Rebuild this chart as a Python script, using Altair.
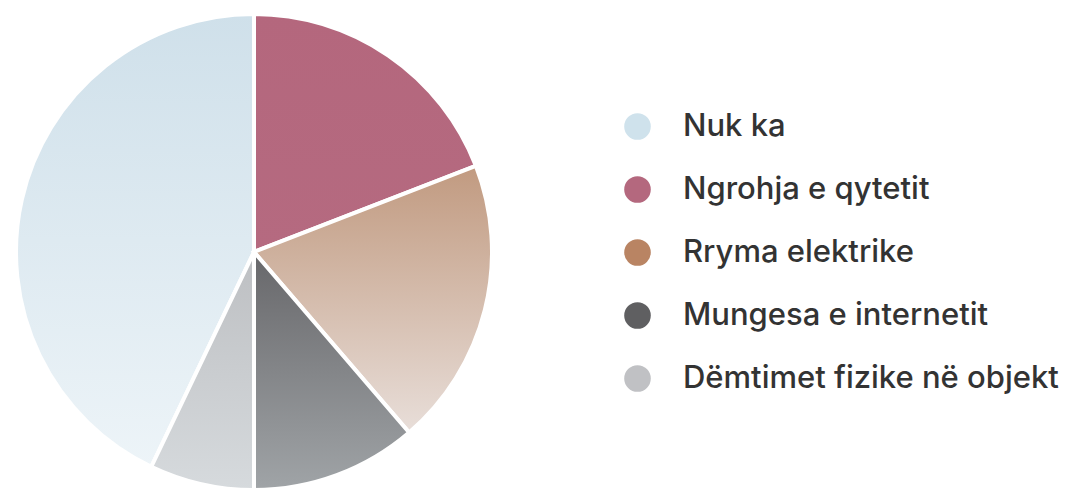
import altair as alt
import pandas as pd

categories = ["Nuk ka", "Ngrohja e qytetit", "Rryma elektrike", "Mungesa e internetit", "Dëmtimet fizike në objekt"]
values = [42.9, 19.1, 19.6, 11.3, 7.1]
draw_order = [5, 1, 2, 3, 4]
legend_colors = ["#cfe2ec", "#b4687e", "#b98463", "#5f5f61", "#c0c1c4"]
grad_top = ["#cfe0ea", "#b4677d", "#c19a80", "#67676a", "#bdbfc2"]
grad_bottom = ["#edf4f8", "#b56a80", "#e8ded9", "#a0a4a7", "#d6dadd"]

df = pd.DataFrame({"cat": categories, "value": values, "order": draw_order})

CX, CY, R = 246, 244, 238

base = alt.Chart(df).transform_window(
    end="sum(value)", sort=[alt.SortField("order")], frame=[None, 0]
).transform_calculate(start="datum.end - datum.value")

theta = alt.Theta("start:Q", stack=None, scale=alt.Scale(domain=[0, 100]))
theta2 = alt.Theta2("end:Q")

bottom = base.mark_arc(radius=R, stroke="white", strokeWidth=4).encode(
    theta=theta,
    theta2=theta2,
    x=alt.value(CX),
    y=alt.value(CY),
    color=alt.Color(
        "cat:N",
        scale=alt.Scale(domain=categories, range=legend_colors),
        sort=categories,
        legend=alt.Legend(
            title=None,
            orient="none",
            legendX=614,
            legendY=103,
            padding=0,
            symbolType="circle",
            symbolSize=707,
            symbolStrokeWidth=0,
            symbolOpacity=1,
            labelFont="Inter",
            labelFontSize=31,
            labelFontWeight=500,
            labelColor="#333333",
            labelOffset=30,
            labelLimit=600,
            rowPadding=31,
        ),
    ),
)

layers = [bottom]
for i, c in enumerate(categories):
    grad = alt.Gradient(
        gradient="linear",
        stops=[
            alt.GradientStop(color=grad_top[i], offset=0),
            alt.GradientStop(color=grad_bottom[i], offset=1),
        ],
        x1=0, x2=0, y1=0, y2=1,
    )
    layers.append(
        base.transform_filter(alt.datum.cat == c)
        .mark_arc(radius=R, stroke="white", strokeWidth=4, fill=grad)
        .encode(theta=theta, theta2=theta2, x=alt.value(CX), y=alt.value(CY))
    )

chart = alt.layer(*layers).properties(
    width=1052,
    height=483,
    padding=0,
    autosize=alt.AutoSizeParams(type="none"),
).configure_view(stroke=None)

chart.save("out.html", embed_options={"renderer": "svg", "actions": False})
